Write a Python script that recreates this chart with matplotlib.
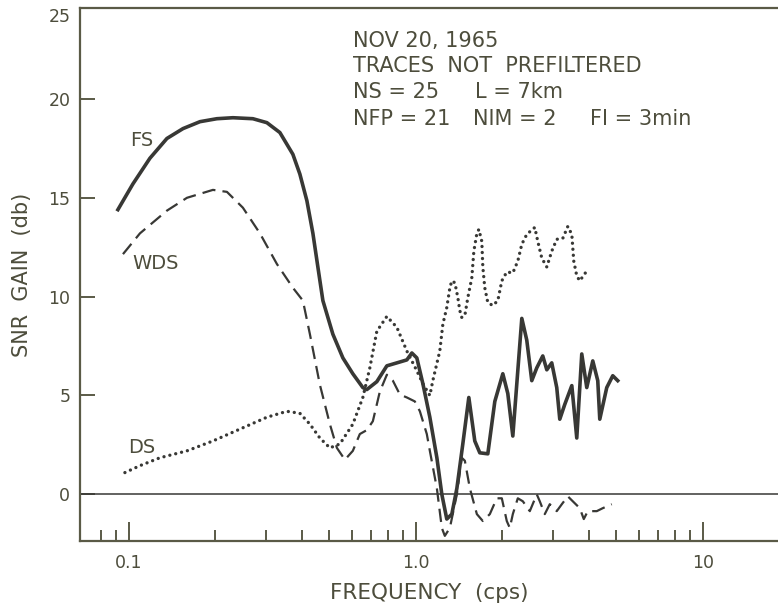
import matplotlib
matplotlib.use("Agg")
from matplotlib import pyplot as plt
from matplotlib.ticker import FixedLocator, NullFormatter

# FS  (solid)
fs_freq = [0.0915, 0.1032, 0.1183, 0.1356, 0.1543, 0.1768, 0.2025, 0.2304, 0.2704, 0.3025,
           0.3358, 0.3727, 0.3942, 0.4171, 0.4377, 0.4555, 0.4742, 0.5138, 0.5568, 0.6031,
           0.6535, 0.6749, 0.7312, 0.7924, 0.8586, 0.9303, 0.9685, 1.008, 1.058, 1.119,
           1.184, 1.232, 1.282, 1.335, 1.390, 1.458, 1.530, 1.605, 1.671, 1.782,
           1.885, 2.010, 2.092, 2.178, 2.249, 2.341, 2.436, 2.536, 2.640, 2.770,
           2.861, 2.977, 3.099, 3.175, 3.305, 3.497, 3.639, 3.788, 3.943, 4.138,
           4.307, 4.377, 4.629, 4.858, 5.056]
fs_gain = [14.4, 15.7, 17.0, 18.0, 18.5, 18.85, 19.0, 19.05, 19.0, 18.8,
           18.3, 17.2, 16.2, 14.85, 13.2, 11.5, 9.8, 8.1, 6.9, 6.1,
           5.4, 5.3, 5.7, 6.5, 6.65, 6.8, 7.15, 6.9, 5.6, 3.9,
           1.85, 0.0, -1.25, -1.0, 0.3, 2.55, 4.9, 2.7, 2.1, 2.05,
           4.7, 6.1, 5.1, 2.95, 5.6, 8.9, 7.8, 5.75, 6.4, 7.0,
           6.3, 6.65, 5.4, 3.8, 4.55, 5.5, 2.85, 7.1, 5.4, 6.75,
           5.75, 3.8, 5.4, 6.0, 5.75]

# WDS (dashed)
wds_freq = [0.0953, 0.1092, 0.1356, 0.1593, 0.1962, 0.2195, 0.2495, 0.2861, 0.3279, 0.3727,
            0.4039, 0.4273, 0.4628, 0.5016, 0.5306, 0.5658, 0.6031, 0.6379, 0.6749, 0.7082,
            0.7491, 0.7924, 0.8316, 0.8796, 0.9303, 0.9920, 1.033, 1.092, 1.119, 1.184,
            1.232, 1.262, 1.314, 1.390, 1.446, 1.482, 1.543, 1.632, 1.712, 1.811,
            1.915, 1.994, 2.075, 2.126, 2.178, 2.267, 2.360, 2.496, 2.640, 2.704,
            2.815, 2.930, 3.099, 3.227, 3.386, 3.524, 3.728, 3.850, 3.975, 4.273,
            4.483, 4.819]
wds_gain = [12.15, 13.2, 14.35, 15.0, 15.4, 15.3, 14.5, 13.2, 11.65, 10.45,
            9.8, 8.1, 5.55, 3.55, 2.35, 1.75, 2.2, 3.05, 3.25, 3.7,
            5.2, 6.05, 5.75, 5.05, 4.9, 4.7, 4.2, 3.05, 2.2, 0.3,
            -1.7, -2.1, -1.7, 0.0, 1.85, 1.7, 0.3, -1.0, -1.35, -1.0,
            -0.2, -0.2, -1.35, -1.7, -1.0, -0.2, -0.35, -0.85, 0.0, -0.35,
            -1.0, -0.5, -0.85, -0.5, -0.1, -0.35, -0.7, -1.25, -0.85, -0.85,
            -0.7, -0.5]

# DS  (dotted)
ds_freq = [0.0968, 0.1092, 0.1282, 0.1593, 0.1962, 0.2436, 0.3025, 0.3552, 0.3942, 0.4273,
           0.4628, 0.5016, 0.5436, 0.6031, 0.6535, 0.6913, 0.7312, 0.7924, 0.8586, 0.9303,
           1.008, 1.058, 1.119, 1.146, 1.212, 1.242, 1.282, 1.314, 1.335, 1.368,
           1.401, 1.423, 1.446, 1.482, 1.518, 1.567, 1.593, 1.632, 1.658, 1.698,
           1.712, 1.739, 1.782, 1.855, 1.931, 1.994, 2.075, 2.178, 2.267, 2.341,
           2.436, 2.598, 2.661, 2.748, 2.861, 2.977, 3.099, 3.253, 3.386, 3.497,
           3.552, 3.639, 3.728, 3.943]
ds_gain = [1.1, 1.45, 1.85, 2.2, 2.7, 3.3, 3.9, 4.2, 4.1, 3.55,
           2.85, 2.35, 2.55, 3.55, 4.9, 6.4, 8.25, 9.0, 8.45, 7.25,
           6.25, 5.6, 5.0, 5.75, 7.25, 8.6, 9.45, 10.45, 10.8, 10.7,
           9.95, 9.3, 8.95, 9.05, 9.95, 10.95, 12.3, 13.2, 13.4, 12.8,
           11.5, 10.45, 9.7, 9.55, 9.8, 10.8, 11.25, 11.2, 11.8, 12.65,
           13.15, 13.5, 12.8, 11.95, 11.5, 12.3, 12.9, 12.95, 13.55, 13.15,
           11.8, 11.05, 10.8, 11.3]

major_x = [0.1, 1.0, 10]
major_x_labels = ["0.1", "1.0", "10"]
minor_x = [0.08, 0.09, 0.2, 0.3, 0.4, 0.5, 0.6, 0.7, 0.8, 0.9,
           2, 3, 4, 5, 6, 7, 8, 9]
y_ticks = [0, 5, 10, 15, 20]
y_top = 24.6

# header block: (text, left pixel) pieces per line
info_lines = [
    [("NOV 20, 1965", 353)],
    [("TRACES  NOT  PREFILTERED", 353)],
    [("NS = 25", 353), ("L = 7km", 475)],
    [("NFP = 21", 353), ("NIM = 2", 473), ("FI = 3min", 590)],
]
info_baselines = [47, 72, 98, 125]

line_col = "#383835"
text_col = "#4d4d3c"
axis_col = "#5a5a46"
plt.rcParams["font.family"] = ["DejaVu Sans"]

fig = plt.figure(figsize=(7.78, 6.05), dpi=100)
ax = fig.add_axes([80 / 778, 1 - 541 / 605, 698 / 778, 533 / 605])

ax.plot(fs_freq, fs_gain, color=line_col, lw=2.6, solid_joinstyle="round")
ax.plot(wds_freq, wds_gain, color=line_col, lw=1.6, dashes=(6, 3.2))
ax.plot(ds_freq, ds_gain, color=line_col, lw=2.4, linestyle=(0, (0.01, 1.8)),
        dash_capstyle="round")
ax.axhline(0, color=line_col, lw=1.1)

ax.set_xscale("log")
ax.set_xlim(0.0675, 18.3)
ax.set_ylim(-2.36, y_top)

ax.xaxis.set_major_locator(FixedLocator(major_x))
ax.set_xticklabels(major_x_labels)
ax.xaxis.set_minor_locator(FixedLocator(minor_x))
ax.xaxis.set_minor_formatter(NullFormatter())
ax.set_yticks(y_ticks + [y_top], [str(v) for v in y_ticks] + ["25"])
ax.get_yticklabels()[-1].set_va("top")

ax.tick_params(axis="x", which="major", direction="in", length=14, width=1.4,
               colors=axis_col, labelcolor=text_col, labelsize=12.5, pad=9)
ax.tick_params(axis="x", which="minor", direction="in", length=8, width=1.4,
               colors=axis_col)
ax.tick_params(axis="y", direction="in", length=11, width=1.4,
               colors=axis_col, labelcolor=text_col, labelsize=12.5, pad=7)

for side in ["left", "bottom", "top"]:
    ax.spines[side].set_color(axis_col)
    ax.spines[side].set_linewidth(1.6)
ax.spines["right"].set_visible(False)

ax.set_xlabel("FREQUENCY  (cps)", fontsize=15.5, color=text_col, labelpad=8)
ax.set_ylabel("SNR  GAIN  (db)", fontsize=15, color=text_col, labelpad=12)

# curve labels
ax.text(0.1008, 17.6, "FS", fontsize=14, color=text_col)
ax.text(0.1024, 11.4, "WDS", fontsize=14, color=text_col)
ax.text(0.0992, 2.1, "DS", fontsize=14, color=text_col)

for parts, base in zip(info_lines, info_baselines):
    for txt, xpix in parts:
        fig.text(xpix / 778, 1 - base / 605, txt, fontsize=15, color=text_col,
                 va="baseline", ha="left")

fig.savefig("out.png", dpi=100)
